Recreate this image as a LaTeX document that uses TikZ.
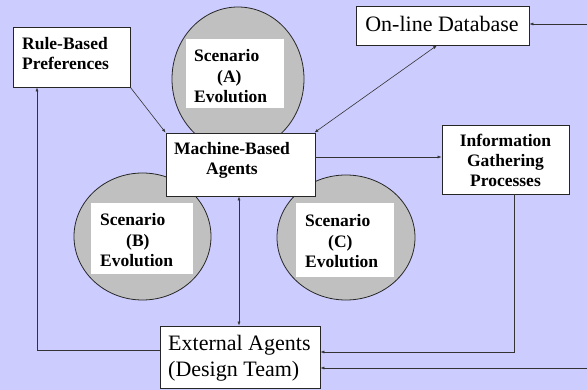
\documentclass[tikz,border=0pt]{standalone}
\usepackage{fontspec}
\setmainfont{Liberation Serif}
\usetikzlibrary{arrows.meta,shapes.geometric}
\definecolor{bgc}{RGB}{204,204,255}
\definecolor{circ}{RGB}{192,192,192}
\begin{document}
\begin{tikzpicture}[x=1pt,y=-1pt,
  box/.style={draw=black!85,fill=white,line width=0.8pt,inner sep=0pt},
  wbox/.style={fill=white,inner sep=0pt},
  ell/.style={draw=black!85,fill=circ,ellipse,line width=0.8pt,inner sep=0pt},
  bt/.style={font=\fontsize{17.5}{20.5}\selectfont\bfseries,align=left,inner sep=0pt,anchor=base west},
  btc/.style={font=\fontsize{17.5}{20}\selectfont\bfseries,align=center,inner sep=0pt,anchor=base},
  rt/.style={font=\fontsize{22}{26}\selectfont,align=left,inner sep=0pt,anchor=base west},
  tip/.tip={Latex[length=4pt,width=3pt]},
  arr/.style={-tip,line width=0.6pt,draw=black!80},
  darr/.style={tip-tip,line width=0.6pt,draw=black!80}]
\fill[bgc] (0,0) rectangle (587,390);
\useasboundingbox (0,0) rectangle (587,390);
% ellipses
\node[ell,minimum width=132pt,minimum height=144pt] (ea) at (238,79) {};
\node[wbox,minimum width=98pt,minimum height=69pt] (wa) at (235,73.5) {};
\node[ell,minimum width=137pt,minimum height=127pt] (eb) at (142.5,236.5) {};
\node[wbox,minimum width=102pt,minimum height=71pt] (wb) at (142,238.5) {};
\node[ell,minimum width=138pt,minimum height=125pt] (ec) at (346,237.5) {};
\node[wbox,minimum width=98pt,minimum height=74pt] (wc) at (345,240) {};
% boxes
\node[box,minimum width=117pt,minimum height=60pt] (rule) at (71.5,57) {};
\node[box,minimum width=149pt,minimum height=63pt] (mach) at (240.5,164.5) {};
\node[box,minimum width=173pt,minimum height=39pt] (db) at (442.5,25.5) {};
\node[box,minimum width=127pt,minimum height=69pt] (info) at (505.5,159.5) {};
\node[box,minimum width=160pt,minimum height=62pt] (ext) at (240,357) {};
% texts (anchored at the baseline of the last line)
\node[bt] (trule) at (22,70) {Rule-Based\\Preferences};
\node[bt] (ta) at (194,103) {Scenario\\\hspace*{23pt}(A)\\Evolution};
\node[bt] (tb) at (100,267) {Scenario\\\hspace*{26pt}(B)\\Evolution};
\node[bt] (tc) at (305,268) {Scenario\\\hspace*{23pt}(C)\\Evolution};
\node[btc] (tmach) at (232,175) {Machine-Based\\Agents};
\node[btc] (tinfo) at (505.5,187) {Information\\Gathering\\Processes};
\node[rt,anchor=base] (tdb) at (442,32) {On-line Database};
\node[rt] (text) at (168,377) {External Agents\\(Design Team)};
% coordinates
\coordinate (vx) at (239,0);
\coordinate (c1) at (514,352);
\coordinate (r1) at (587,368);
\coordinate (r2) at (587,24);
\coordinate (l1) at (37,350);
% connectors
\draw[arr] (rule.south east) -- (mach.north west);
\draw[darr] ([xshift=-5.5pt]db.south) -- ([xshift=-1pt]mach.north east);
\draw[arr] ([yshift=7.5pt]mach.east) -- ([yshift=7.5pt]mach.east -| info.west);
\draw[darr] (mach.south -| vx) -- (ext.north -| vx);
\draw[arr] (info.south -| c1) -- (c1) -- (ext.east |- c1);
\draw[arr] (r1) -- (ext.east |- r1);
\draw[arr] (r2) -- (db.east |- r2);
\draw[arr] (ext.west |- l1) -- (l1) -- (rule.south -| l1);
\end{tikzpicture}
\end{document}
